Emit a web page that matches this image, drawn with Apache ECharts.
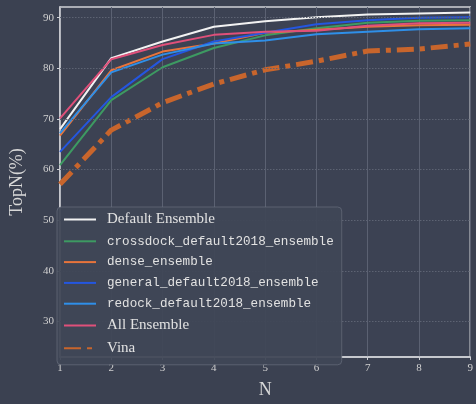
<!DOCTYPE html>
<html><head><meta charset="utf-8">
<script src="https://cdn.jsdelivr.net/npm/echarts@6/dist/echarts.min.js"></script>
<style>html,body{margin:0;padding:0;background:#3b4151;}#c{width:476px;height:404px;}</style>
</head><body><div id="c"></div>
<script>
const N = [1,2,3,4,5,6,7,8,9];
const yTicks = [30,40,50,60,70,80,90];
const defaultEnsemble = [68.0, 82.0, 85.3, 88.2, 89.3, 90.1, 90.6, 90.8, 91.0];
const crossdockEnsemble = [60.9, 73.7, 80.2, 84.0, 86.5, 87.9, 89.0, 89.4, 89.5];
const denseEnsemble = [66.7, 79.6, 83.3, 84.9, 87.0, 87.6, 88.2, 88.5, 88.6];
const generalEnsemble = [63.5, 74.3, 81.8, 85.3, 87.0, 88.7, 89.5, 90.0, 90.1];
const redockEnsemble = [67.2, 79.2, 82.7, 84.9, 85.5, 86.7, 87.2, 87.7, 87.9];
const allEnsemble = [70.1, 81.8, 84.6, 86.6, 87.2, 87.4, 88.4, 88.9, 89.0];
const vina = [57.1, 67.8, 73.2, 76.9, 79.7, 81.4, 83.4, 83.8, 84.8];
const names = ['Default Ensemble','crossdock_default2018_ensemble','dense_ensemble','general_default2018_ensemble','redock_default2018_ensemble','All Ensemble','Vina'];
const monoNames = ['crossdock_default2018_ensemble','dense_ensemble','general_default2018_ensemble','redock_default2018_ensemble'];
const colors = ['#f2f2f2','#3d9a62','#e8743b','#2456e0','#2f8fe8','#e0507a','#c8652c'];
const values = [defaultEnsemble, crossdockEnsemble, denseEnsemble, generalEnsemble, redockEnsemble, allEnsemble, vina];

const chart = echarts.init(document.getElementById('c'));
const serif = 'Liberation Serif';
const series = names.map((n,i)=>({
  name:n, type:'line', symbol:'none', showSymbol:false, animation:false,
  data: N.map((x,j)=>[x, values[i][j]]),
  lineStyle: i===6 ? {width:5, color:colors[i], type:[17,6,5,6]} : {width:2, color:colors[i]},
  itemStyle:{color:colors[i]},
  z: i===6 ? 3 : 4
}));
series.push({
  name:'grid', type:'line', data:[], silent:true, z:1,
  markLine:{silent:true, symbol:['none','none'], animation:false, label:{show:false},
    lineStyle:{color:'#5d6373', width:1, type:[1.5,1.5]},
    data: yTicks.map(v=>({yAxis:v}))}
});
chart.setOption({
  backgroundColor:'#3b4151',
  animation:false,
  grid:{left:50, right:4, top:7, bottom:35, show:true, borderColor:'#cfd1d6', borderWidth:1.5, backgroundColor:'#3c4253'},
  xAxis:{type:'value', min:1, max:9, interval:1,
    name:'N', nameLocation:'middle', nameGap:24,
    nameTextStyle:{fontFamily:serif, fontSize:18, color:'#d8d8d8'},
    axisLine:{show:true, onZero:false, lineStyle:{color:'#cfd1d6', width:1.5}},
    axisTick:{show:true, length:3, lineStyle:{color:'#cfd1d6'}},
    axisLabel:{fontFamily:serif, fontSize:11, color:'#d0d0d0', margin:6},
    splitLine:{show:true, lineStyle:{color:'#5b6172', width:1}}
  },
  yAxis:{type:'value', min:23, max:92.1,
    name:'TopN(%)', nameLocation:'middle', nameGap:34, nameRotate:90,
    nameTextStyle:{fontFamily:serif, fontSize:18, color:'#d8d8d8'},
    axisLine:{show:true, lineStyle:{color:'#cfd1d6', width:1.5}},
    axisTick:{show:true, length:3, lineStyle:{color:'#cfd1d6'}, customValues:yTicks},
    axisLabel:{fontFamily:serif, fontSize:11, color:'#d0d0d0', margin:6, customValues:yTicks},
    splitLine:{show:false}
  },
  legend:{
    orient:'vertical', left:57, top:207, width:284, z:10,
    backgroundColor:'rgba(64,70,86,0.94)', borderColor:'rgba(110,116,132,0.6)', borderWidth:1, borderRadius:4,
    padding:[5,8,9,6], itemWidth:32, itemHeight:14, itemGap:7.8,
    itemStyle:{opacity:0, borderWidth:0},
    data:names,
    formatter:(n)=> monoNames.includes(n) ? '{m|'+n+'}' : '{s|'+n+'}',
    textStyle:{color:'#e2e2e2', rich:{
      m:{fontFamily:'Liberation Mono', fontSize:12.6, color:'#e2e2e2', padding:[0,0,0,6]},
      s:{fontFamily:serif, fontSize:15, color:'#e2e2e2', padding:[0,0,0,6]}
    }}
  },
  series:series
});
</script></body></html>
